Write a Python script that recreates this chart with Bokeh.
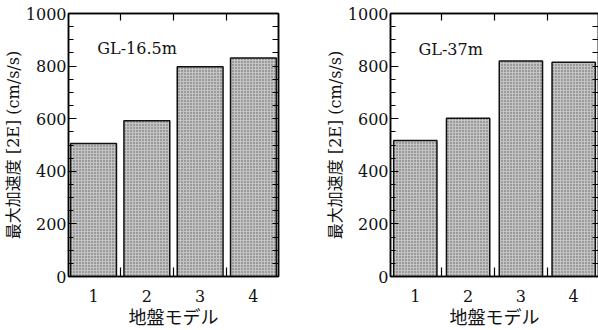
from bokeh.plotting import figure
from bokeh.models import Range1d, LinearAxis, SingleIntervalTicker, FixedTicker, Label
from bokeh.layouts import row
from bokeh.embed import file_html
from bokeh.resources import INLINE

# ---- data ----
models = [1, 2, 3, 4]
minor_x = [1.5, 2.5, 3.5]
acc_gl165 = [506, 592, 798, 831]
acc_gl37 = [517, 602, 819, 815]
panel_titles = ["GL-16.5m", "GL-37m"]
x_label = "地盤モデル"
y_label = "最大加速度 [2E] (cm/s/s)"
right_ticks = list(range(50, 1000, 50))

FONT = "DejaVu Serif, Noto Sans CJK JP"


def make_panel(vals, title, border_left, border_right, frame_w, tx, ty, bar_w):
    p = figure(output_backend="svg", toolbar_location=None,
               x_range=Range1d(0.53, 4.47), y_range=Range1d(0, 1000),
               frame_width=frame_w, frame_height=263,
               min_border_left=border_left, min_border_right=border_right,
               min_border_top=13, min_border_bottom=50,
               x_axis_location=None, y_axis_location=None)
    p.grid.visible = False
    p.outline_line_color = "black"
    p.outline_line_width = 1.5
    p.background_fill_color = "white"
    p.border_fill_color = "white"

    p.vbar(x=models, top=vals, width=bar_w, bottom=0,
           fill_color="#c4c4c4", line_color="#111111", line_width=1.5,
           hatch_pattern="dot", hatch_scale=3, hatch_color="#5a5a5a",
           hatch_weight=0.6)

    # left axis
    yl = LinearAxis(ticker=SingleIntervalTicker(interval=200, num_minor_ticks=4))
    yl.major_tick_in = 8
    yl.major_tick_out = 0
    yl.minor_tick_in = 5
    yl.minor_tick_out = 0
    yl.major_label_standoff = 2
    yl.major_label_text_font = FONT
    yl.major_label_text_font_size = "16px"
    yl.major_label_text_color = "#111111"
    yl.axis_label = y_label
    yl.axis_label_text_font = FONT
    yl.axis_label_text_font_size = "16px"
    yl.axis_label_text_font_style = "normal"
    yl.axis_label_text_color = "#111111"
    yl.axis_label_standoff = 0
    yl.axis_line_width = 1.5
    yl.major_tick_line_width = 1.2
    yl.minor_tick_line_width = 1.0
    p.add_layout(yl, "left")

    # right axis (ticks only, no labels)
    yr = LinearAxis(ticker=FixedTicker(ticks=[], minor_ticks=right_ticks))
    yr.minor_tick_in = 6
    yr.minor_tick_out = 0
    yr.major_label_standoff = 0
    yr.axis_line_width = 1.5
    yr.minor_tick_line_width = 1.1
    p.add_layout(yr, "right")

    # bottom axis: labels at models, inner ticks between bars
    xb = LinearAxis(ticker=FixedTicker(ticks=models, minor_ticks=minor_x))
    xb.major_tick_in = 0
    xb.major_tick_out = 0
    xb.minor_tick_in = 9
    xb.minor_tick_out = 0
    xb.major_label_standoff = 13
    xb.major_label_text_font = FONT
    xb.major_label_text_font_size = "16px"
    xb.major_label_text_color = "#111111"
    xb.axis_label = x_label
    xb.axis_label_text_font = FONT
    xb.axis_label_text_font_size = "18px"
    xb.axis_label_text_font_style = "normal"
    xb.axis_label_text_color = "#111111"
    xb.axis_label_standoff = 2
    xb.axis_line_width = 1.5
    xb.minor_tick_line_width = 1.2
    p.add_layout(xb, "below")

    # top axis: ticks only
    xt = LinearAxis(ticker=FixedTicker(ticks=[], minor_ticks=minor_x))
    xt.minor_tick_in = 7
    xt.minor_tick_out = 0
    xt.major_label_standoff = 0
    xt.axis_line_width = 1.5
    xt.minor_tick_line_width = 1.2
    p.add_layout(xt, "above")

    p.add_layout(Label(x=tx, y=ty, text=title, text_font=FONT,
                       text_font_size="16px", text_color="#111111",
                       text_baseline="alphabetic", text_align="left"))
    return p


p1 = make_panel(acc_gl165, panel_titles[0], 66, 24, 210, 1.07, 867, 0.86)
p2 = make_panel(acc_gl37, panel_titles[1], 88, 1, 208, 1.06, 863, 0.82)

layout = row(p1, p2, spacing=0)
open("out.html", "w").write(file_html(layout, INLINE))
